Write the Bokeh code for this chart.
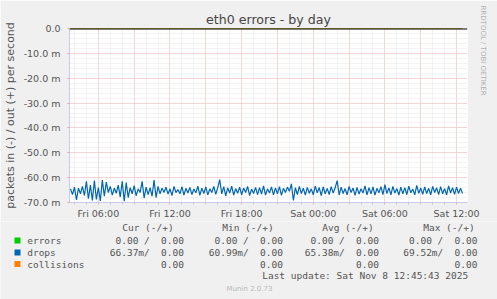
import sys
import numpy as np
from bokeh.plotting import figure
from bokeh.models import FixedTicker, Span, Range1d, Title
from bokeh.layouts import column
from bokeh.core.properties import value
from bokeh.embed import file_html
from bokeh.resources import INLINE

# ---------------- data (milli-packets per second, "in" drawn negative) ----------------
start_hour = 3 + 40 / 60.0   # Fri 03:40, hours since Fri 00:00
step_hours = 10 / 60.0
drops_in = [
    -64.5, -66.8, -63.8, -69.0, -64.2, -66.5, -63.5, -67.2, -61.5, -68.5, -63.0, -69.2,
    -61.2, -68.8, -64.0, -69.4, -61.0, -67.5, -61.8, -66.0, -63.5, -67.0, -64.2, -66.3,
    -63.0, -67.8, -61.5, -69.5, -62.0, -68.0, -64.0, -66.5, -63.2, -67.3, -64.5, -66.0,
    -61.5, -68.2, -63.8, -66.8, -64.0, -67.5, -61.0, -68.0, -63.5, -66.5, -64.2, -66.0,
    -63.8, -66.6, -64.5, -67.2, -63.5, -66.0, -64.8, -66.5, -63.6, -67.0, -64.3, -66.2,
    -63.9, -66.8, -64.6, -66.1, -63.4, -67.1, -64.2, -66.4, -63.7, -66.9, -64.5, -66.0,
    -63.5, -66.7, -64.0, -60.8, -66.5, -63.6, -67.3, -64.1, -66.2, -63.4, -67.0, -64.4,
    -66.3, -63.8, -66.9, -64.2, -66.0, -63.5, -67.2, -64.6, -66.4, -63.9, -66.8, -64.0,
    -66.6, -63.3, -67.0, -64.5, -66.2, -63.7, -66.9, -64.1, -66.5, -63.6, -67.1, -64.3,
    -66.0, -63.8, -65.5, -62.5, -69.2, -64.0, -66.8, -63.5, -66.4, -64.2, -67.0, -63.9,
    -66.3, -64.5, -66.9, -63.4, -66.1, -64.0, -67.2, -63.7, -66.5, -64.3, -66.8, -63.6,
    -66.2, -64.1, -61.2, -67.0, -63.8, -66.4, -64.4, -66.9, -63.5, -66.0, -64.2, -67.1,
    -63.9, -66.6, -64.5, -66.2, -63.3, -66.9, -64.0, -66.5, -63.7, -67.0, -64.3, -66.1,
    -63.6, -66.8, -62.8, -66.4, -64.1, -66.9, -63.5, -66.2, -64.4, -67.0, -63.8, -66.5,
    -64.0, -66.8, -63.4, -66.1, -64.6, -66.9, -63.1, -66.3, -64.2, -66.7, -63.7, -66.4,
    -64.3, -66.9, -63.5, -66.0, -64.1, -66.8, -63.6, -66.5, -64.4, -66.9, -63.3, -66.2,
    -64.0, -66.7, -63.8, -66.4, -64.2, -66.4,
]
errors_in = [0.0] * len(drops_in)
collisions = [0.0] * len(drops_in)

y_ticks = [0, -10, -20, -30, -40, -50, -60, -70]
y_labels = ["0.0", "-10.0 m", "-20.0 m", "-30.0 m", "-40.0 m", "-50.0 m", "-60.0 m", "-70.0 m"]
x_ticks = [6, 12, 18, 24, 30, 36]
x_labels = ["Fri 06:00", "Fri 12:00", "Fri 18:00", "Sat 00:00", "Sat 06:00", "Sat 12:00"]

legend_names = ["errors", "drops", "collisions"]
legend_colors = ["#00CC00", "#0066B3", "#FF8000"]
col_headers = ["Cur (-/+)", "Min (-/+)", "Avg (-/+)", "Max (-/+)"]
# each cell: (in part, out part); in part None when absent
cur_vals = [("0.00 /", "0.00"), ("66.37m/", "0.00"), (None, "0.00")]
min_vals = [("0.00 /", "0.00"), ("60.99m/", "0.00"), (None, "0.00")]
avg_vals = [("0.00 /", "0.00"), ("65.38m/", "0.00"), (None, "0.00")]
max_vals = [("0.00 /", "0.00"), ("69.52m/", "0.00"), (None, "0.00")]
last_update = "Last update: Sat Nov  8 12:45:43 2025"
version = "Munin 2.0.73"

hours = start_hour + np.arange(len(drops_in)) * step_hours

W = 497
H_TOP = 221
H_BOT = 78
GREY = "#555555"

p = figure(width=W, height=H_TOP, output_backend="svg", toolbar_location=None,
           title="eth0 errors - by day",
           x_range=Range1d(3 + 35 / 60.0, 36 + 55 / 60.0), y_range=Range1d(-70, 0),
           min_border_left=67, min_border_right=30, min_border_top=28, min_border_bottom=18,
           background_fill_color="#FFFFFF", border_fill_color="#F0F0F0",
           outline_line_color=None)
p.title.align = "center"
p.title.text_font = "DejaVu Sans"
p.title.text_font_size = "12.6px"
p.title.text_font_style = "normal"
p.title.text_color = "#444444"
p.title.standoff = 3

rt = Title(text="RRDTOOL / TOBI OETIKER", align="left", vertical_align="top", offset=-23, standoff=19,
           text_font="DejaVu Sans", text_font_size="7px", text_font_style="normal",
           text_color="#B0B0B0")
p.add_layout(rt, "right")

# grids
p.xgrid.ticker = FixedTicker(ticks=list(range(6, 37, 3)), minor_ticks=list(range(4, 37)))
p.ygrid.ticker = FixedTicker(ticks=y_ticks, minor_ticks=list(range(-70, 1, 2)))
for g in (p.xgrid, p.ygrid):
    g.grid_line_color = "#F4B8B8"
    g.grid_line_dash = "1 1"
    g.minor_grid_line_color = "#E6E6E6"
    g.minor_grid_line_dash = "1 1"

# axes
p.yaxis.ticker = FixedTicker(ticks=y_ticks)
p.yaxis.major_label_overrides = dict(zip(y_ticks, y_labels))
p.xaxis.ticker = FixedTicker(ticks=x_ticks, minor_ticks=list(range(4, 37)))
p.xaxis.major_label_overrides = dict(zip(x_ticks, x_labels))
for ax in (p.xaxis, p.yaxis):
    ax.axis_line_color = "#C8C8F0"
    ax.major_tick_line_color = "#F0A0A0"
    ax.minor_tick_line_color = "#C8C8C8"
    ax.major_tick_in = 0
    ax.major_tick_out = 2
    ax.minor_tick_in = 0
    ax.minor_tick_out = 2
    ax.major_label_text_font = "DejaVu Sans"
    ax.major_label_text_font_size = "9.5px"
    ax.major_label_text_color = GREY
p.yaxis.major_label_standoff = 7
p.xaxis.major_label_standoff = 3
p.yaxis.minor_tick_line_color = None
p.yaxis.axis_label = "packets in (-) / out (+) per second"
p.yaxis.axis_label_text_font = "DejaVu Sans"
p.yaxis.axis_label_text_font_size = "11px"
p.yaxis.axis_label_text_font_style = "normal"
p.yaxis.axis_label_text_color = GREY
p.yaxis.axis_label_standoff = 4

# series
p.line(hours, errors_in, line_color=legend_colors[0], line_width=1)
p.line(hours, collisions, line_color=legend_colors[2], line_width=1)
p.line(hours, drops_in, line_color=legend_colors[1], line_width=1.2)
p.add_layout(Span(location=0, dimension="width", line_color="#000000", line_width=2))

# ---------------- legend / statistics block (pixel coordinates of the page) ----------------
q = figure(width=W, height=H_BOT, output_backend="svg", toolbar_location=None,
           x_range=Range1d(0, W), y_range=Range1d(H_TOP + H_BOT, H_TOP),
           x_axis_location=None, y_axis_location=None,
           min_border=0, background_fill_color="#F0F0F0", border_fill_color="#F0F0F0",
           outline_line_color=None)
q.grid.visible = False

for fig in (p, q):
    try:
        fig.frame_align = False
    except Exception as exc:  # property may not exist
        print("frame_align unavailable:", exc, file=sys.stderr)

MONO = value("DejaVu Sans Mono")
FS = value("9.5px")
header_x = [121.7, 221.7, 321.7, 422.7]
row_y = [240, 252, 263.5]
col_end = [183.5, 282.5, 378.5, 477]
char_w = 5.7

q.text(x=header_x, y=[227] * 4, text=col_headers, text_font=MONO, text_font_size=FS,
       text_color=GREY, text_align="left", text_baseline="middle")
q.rect(x=[17] * 3, y=row_y, width=6, height=6, fill_color=legend_colors, line_color=None)
q.text(x=[26.7] * 3, y=row_y, text=legend_names, text_font=MONO, text_font_size=FS,
       text_color=GREY, text_align="left", text_baseline="middle")
for vals, xe in zip((cur_vals, min_vals, avg_vals, max_vals), col_end):
    for i, (a, b) in enumerate(vals):
        q.text(x=[xe], y=[row_y[i]], text=[b], text_font=MONO, text_font_size=FS,
               text_color=GREY, text_align="right", text_baseline="middle")
        if a is not None:
            q.text(x=[xe - 6 * char_w], y=[row_y[i]], text=[a], text_font=MONO, text_font_size=FS,
                   text_color=GREY, text_align="right", text_baseline="middle")
q.text(x=[261.7], y=[275], text=[last_update], text_font=MONO, text_font_size=FS,
       text_color=GREY, text_align="left", text_baseline="middle")
q.text(x=[249], y=[288], text=[version], text_font=value("DejaVu Sans"), text_font_size=value("7px"),
       text_color="#B8B8B8", text_align="center", text_baseline="middle")

layout = column(p, q, spacing=0)
open("out.html", "w").write(file_html(layout, INLINE))
